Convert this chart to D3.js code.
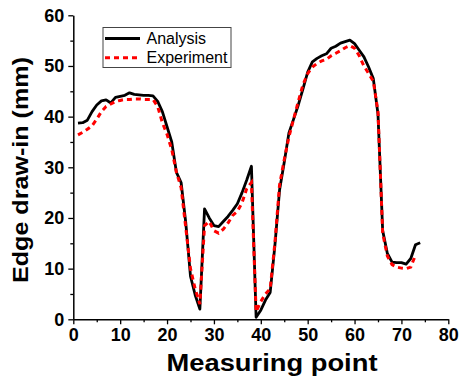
<!DOCTYPE html>
<html>
<head>
<meta charset="utf-8">
<script src="https://cdn.jsdelivr.net/npm/d3@7"></script>
<style>
  body { margin: 0; background: #fff; }
  svg { display: block; font-family: "Liberation Sans", Arial, sans-serif; }
</style>
</head>
<body>
<svg id="chart" width="459" height="378"></svg>
<script>
// measuring points
const pointsAnalysis = d3.range(1, 75);
const pointsExperiment = d3.range(1, 74);

// edge draw-in (mm)
const analysis = [
  38.7, 38.8, 39.3, 41.0, 42.3, 43.1, 43.3, 42.7, 43.8, 44.0,
  44.2, 44.7, 44.4, 44.3, 44.2, 44.2, 44.1, 43.0, 41.0, 38.0,
  35.0, 29.0, 27.0, 19.0, 8.5, 4.8, 2.0, 21.8, 20.0, 18.5,
  18.3, 19.3, 20.3, 21.5, 22.8, 25.0, 27.5, 30.2, 0.4, 1.8,
  3.8, 5.3, 14.5, 25.5, 31.0, 36.8, 39.5, 42.3, 45.5, 48.8,
  50.8, 51.5, 52.0, 52.4, 53.5, 53.9, 54.5, 54.8, 55.1, 54.4,
  53.1, 51.8, 49.8, 47.5, 40.5, 17.5, 13.0, 11.3, 11.2, 11.2,
  10.9, 12.0, 14.7, 15.1
];
const experiment = [
  36.4, 36.9, 37.5, 38.2, 39.5, 41.0, 42.0, 42.5, 43.0, 43.2,
  43.4, 43.4, 43.5, 43.5, 43.4, 43.4, 43.4, 42.0, 38.8, 36.5,
  33.5, 29.0, 26.0, 18.0, 10.0, 6.0, 3.0, 18.5, 19.3, 17.5,
  17.0, 17.8, 19.0, 20.5, 21.3, 23.0, 25.8, 27.0, 1.5, 3.5,
  5.0, 6.0, 15.0, 26.5, 31.5, 36.0, 39.5, 43.0, 46.3, 48.5,
  49.8, 50.5, 51.0, 51.3, 52.0, 52.5, 53.0, 53.6, 54.0, 53.5,
  52.0, 50.0, 48.5, 47.0, 41.0, 17.0, 12.5, 10.8, 10.3, 10.1,
  10.0, 10.3, 12.7
];

const xTicks = [0, 10, 20, 30, 40, 50, 60, 70, 80];
const yTicks = [0, 10, 20, 30, 40, 50, 60];
const seriesNames = ["Analysis", "Experiment"];

const svg = d3.select("#chart");
const plotLeft = 73.3, plotRight = 448.3, plotTop = 15.3, plotBottom = 319.3;

const x = d3.scaleLinear().domain([0, 80]).range([plotLeft, plotRight]);
const y = d3.scaleLinear().domain([0, 60]).range([plotBottom, plotTop]);

// minor ticks
svg.append("g")
  .attr("transform", "translate(0," + plotBottom + ")")
  .call(d3.axisBottom(x).tickValues(d3.range(5, 80, 10)).tickSize(3).tickFormat(""))
  .call(g => g.select(".domain").remove())
  .selectAll("line").attr("stroke-width", 1.3);
svg.append("g")
  .attr("transform", "translate(" + plotLeft + ",0)")
  .call(d3.axisLeft(y).tickValues(d3.range(5, 60, 10)).tickSize(3).tickFormat(""))
  .call(g => g.select(".domain").remove())
  .selectAll("line").attr("stroke-width", 1.3);

// major axes
const xAxis = svg.append("g")
  .attr("transform", "translate(0," + plotBottom + ")")
  .call(d3.axisBottom(x).tickValues(xTicks).tickSize(5).tickSizeOuter(0).tickPadding(4));
const yAxis = svg.append("g")
  .attr("transform", "translate(" + plotLeft + ",0)")
  .call(d3.axisLeft(y).tickValues(yTicks).tickSize(5).tickSizeOuter(0).tickPadding(4));

[xAxis, yAxis].forEach(a => {
  a.select(".domain").attr("stroke-width", 1.5);
  a.selectAll("line").attr("stroke-width", 1.3);
  a.selectAll("text")
    .style("font-family", "Liberation Sans, Arial, sans-serif")
    .style("font-size", "18px")
    .style("font-weight", "bold")
    .attr("fill", "#000");
});

const line = d3.line().x(d => x(d[0])).y(d => y(d[1]));

svg.append("path")
  .datum(pointsAnalysis.map((p, i) => [p, analysis[i]]))
  .attr("fill", "none")
  .attr("stroke", "#000")
  .attr("stroke-width", 2.8)
  .attr("stroke-linejoin", "round")
  .attr("d", line);

svg.append("path")
  .datum(pointsExperiment.map((p, i) => [p, experiment[i]]))
  .attr("fill", "none")
  .attr("stroke", "#ff0000")
  .attr("stroke-width", 3)
  .attr("stroke-dasharray", "5,4")
  .attr("d", line);

// axis titles
svg.append("text")
  .attr("x", 166.5)
  .attr("y", 371)
  .attr("textLength", 211)
  .attr("lengthAdjust", "spacingAndGlyphs")
  .style("font-size", "23px")
  .style("font-weight", "bold")
  .text("Measuring point");

svg.append("text")
  .attr("transform", "translate(27.5,283) rotate(-90)")
  .attr("textLength", 226)
  .attr("lengthAdjust", "spacingAndGlyphs")
  .style("font-size", "22px")
  .style("font-weight", "bold")
  .text("Edge draw-in (mm)");

// legend
const legend = svg.append("g");
legend.append("rect")
  .attr("x", 103).attr("y", 27.5)
  .attr("width", 128).attr("height", 40)
  .attr("fill", "#fff")
  .attr("stroke", "#444")
  .attr("stroke-width", 1);

const legendStyles = [
  { stroke: "#000", width: 2.8, dash: null },
  { stroke: "#ff0000", width: 3, dash: "5,4" }
];
seriesNames.forEach((name, i) => {
  const ly = 38.5 + i * 19.3;
  legend.append("line")
    .attr("x1", 105).attr("x2", 140)
    .attr("y1", ly).attr("y2", ly)
    .attr("stroke", legendStyles[i].stroke)
    .attr("stroke-width", legendStyles[i].width)
    .attr("stroke-dasharray", legendStyles[i].dash);
  legend.append("text")
    .attr("x", 146.5)
    .attr("y", ly + 5.5)
    .style("font-size", "16px")
    .text(name);
});
</script>
</body>
</html>
